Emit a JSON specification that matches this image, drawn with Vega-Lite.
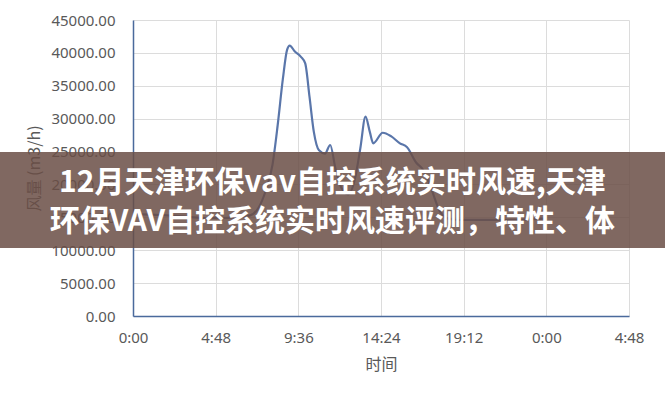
{
  "$schema": "https://vega.github.io/schema/vega-lite/v6.json",
  "width": 496,
  "height": 296,
  "autosize": {"type": "none"},
  "padding": {"left": 133, "top": 20, "right": 36, "bottom": 84},
  "background": "white",
  "config": {"view": {"stroke": null}},
  "datasets": {
    "flow": [
      {"hour": 0.0, "flow": 15500},
      {"hour": 1.0, "flow": 15400},
      {"hour": 2.0, "flow": 15300},
      {"hour": 3.0, "flow": 15100},
      {"hour": 4.0, "flow": 14900},
      {"hour": 5.0, "flow": 14900},
      {"hour": 6.0, "flow": 15000},
      {"hour": 6.8, "flow": 15300},
      {"hour": 7.3, "flow": 16500},
      {"hour": 7.7, "flow": 19000},
      {"hour": 8.1, "flow": 23000},
      {"hour": 8.4, "flow": 29000},
      {"hour": 8.7, "flow": 36000},
      {"hour": 8.95, "flow": 40500},
      {"hour": 9.1, "flow": 41100},
      {"hour": 9.4, "flow": 40200},
      {"hour": 9.75, "flow": 39400},
      {"hour": 10.0, "flow": 38400},
      {"hour": 10.25, "flow": 33300},
      {"hour": 10.5, "flow": 28000},
      {"hour": 10.8, "flow": 25200},
      {"hour": 11.15, "flow": 24700},
      {"hour": 11.45, "flow": 26000},
      {"hour": 11.75, "flow": 22500},
      {"hour": 12.1, "flow": 19500},
      {"hour": 12.5, "flow": 18500},
      {"hour": 12.9, "flow": 21000},
      {"hour": 13.2, "flow": 25500},
      {"hour": 13.5, "flow": 30300},
      {"hour": 13.75, "flow": 28000},
      {"hour": 13.95, "flow": 26250},
      {"hour": 14.5, "flow": 27860},
      {"hour": 15.0, "flow": 27300},
      {"hour": 15.5, "flow": 26250},
      {"hour": 15.9, "flow": 25700},
      {"hour": 16.45, "flow": 23300},
      {"hour": 16.85, "flow": 22200},
      {"hour": 17.3, "flow": 19500},
      {"hour": 17.8, "flow": 16000},
      {"hour": 18.3, "flow": 14800},
      {"hour": 19.0, "flow": 14600},
      {"hour": 20.0, "flow": 14600},
      {"hour": 21.0, "flow": 14600},
      {"hour": 22.0, "flow": 14600},
      {"hour": 23.0, "flow": 14700},
      {"hour": 23.9, "flow": 14800}
    ],
    "banner": [
      {"hour": -8, "hour2": 32, "flow": 10338, "flow2": 24932}
    ],
    "caption": [
      {"hour": 11.58, "flow": 20220, "t": "12月天津环保vav自控系统实时风速,天津"},
      {"hour": 11.58, "flow": 14291, "t": "环保VAV自控系统实时风速评测，特性、体"}
    ]
  },
  "encoding": {
    "x": {
      "field": "hour",
      "type": "quantitative",
      "scale": {"domain": [0, 28.8], "nice": false, "zero": false},
      "axis": {
        "title": "时间",
        "values": [0, 4.8, 9.6, 14.4, 19.2, 24, 28.8],
        "labelExpr": "floor(datum.value % 24) + ':' + (round((datum.value % 1) * 60) < 10 ? '0' : '') + round((datum.value % 1) * 60)",
        "grid": true,
        "gridColor": "#dcdcdc",
        "domainColor": "#4a6a9c",
        "domainWidth": 1.5,
        "ticks": false,
        "labelPadding": 14,
        "labelFont": "Noto Sans",
        "labelFontSize": 15,
        "labelColor": "#595959",
        "labelFlush": false,
        "labelOverlap": false,
        "titleFont": "Noto Sans CJK SC",
        "titleFontSize": 16,
        "titleFontWeight": "normal",
        "titleColor": "#595959",
        "titlePadding": 11
      }
    },
    "y": {
      "field": "flow",
      "type": "quantitative",
      "scale": {"domain": [0, 45000], "nice": false},
      "axis": {
        "title": "风量 (m3/h)",
        "values": [0, 5000, 10000, 15000, 20000, 25000, 30000, 35000, 40000, 45000],
        "format": ".2f",
        "grid": true,
        "gridColor": "#dcdcdc",
        "domainColor": "#4a6a9c",
        "domainWidth": 1.5,
        "ticks": false,
        "labelPadding": 18,
        "labelFont": "Noto Sans",
        "labelFontSize": 15,
        "labelColor": "#595959",
        "labelOverlap": false,
        "titleFont": "Noto Sans CJK SC",
        "titleFontSize": 16,
        "titleFontWeight": "normal",
        "titleColor": "#595959",
        "titlePadding": 8
      }
    }
  },
  "layer": [
    {
      "data": {"name": "flow"},
      "mark": {"type": "line", "interpolate": "monotone", "color": "#5a76aa", "strokeWidth": 2.2}
    },
    {
      "data": {"name": "banner"},
      "mark": {"type": "rect", "fill": "#6a4d45", "opacity": 0.85},
      "encoding": {
        "x2": {"field": "hour2"},
        "y2": {"field": "flow2"}
      }
    },
    {
      "data": {"name": "caption"},
      "mark": {"type": "text", "font": "Noto Sans CJK SC", "fontWeight": "bold", "fontSize": 30, "color": "white", "align": "center", "baseline": "middle"},
      "encoding": {
        "text": {"field": "t"}
      }
    }
  ]
}
